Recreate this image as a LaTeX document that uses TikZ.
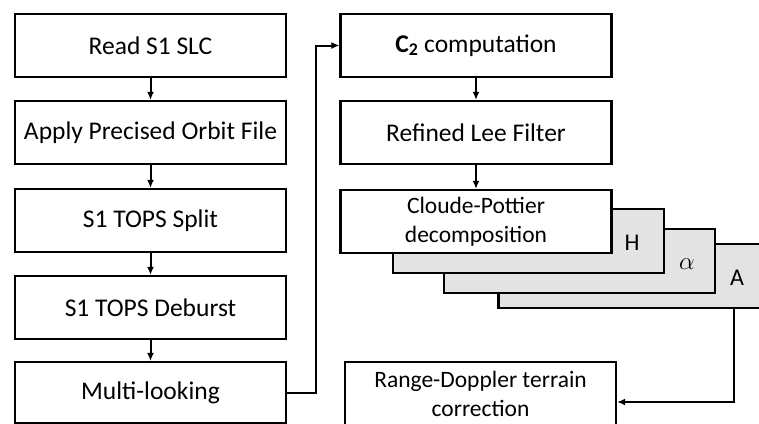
\documentclass[tikz,border=0pt]{standalone}
\usepackage{fontspec}
\setmainfont{Carlito}
\usetikzlibrary{arrows.meta}
\begin{document}
\begin{tikzpicture}[x=1pt,y=-1pt,
  box/.style={draw,line width=2.2pt,fill=white,inner sep=0pt,align=center,
    minimum width=271pt,minimum height=63pt,font=\fontsize{25.5}{30}\selectfont},
  sbox/.style={box,font=\fontsize{23.5}{29}\selectfont},
  layer/.style={draw,line width=2.2pt,fill=gray!22,inner sep=0pt,
    minimum width=271pt,minimum height=64pt},
  lbl/.style={inner sep=0pt,font=\fontsize{24}{28}\selectfont},
  arr/.style={line width=2pt,-{Latex[length=8pt,width=7pt]}}]
\useasboundingbox (0,0) rectangle (759,423);
\clip (0,0) rectangle (759,423);
% left column
\node[box] (read) at (150.5,45.5) {Read S1 SLC};
\node[box] (orbit) at (150.5,132.5) {Apply Precised Orbit File};
\node[box] (split) at (150.5,220.5) {S1 TOPS Split};
\node[box] (deburst) at (150.5,307.5) {S1 TOPS Deburst};
\node[box,minimum height=61pt] (multi) at (150.5,392.5) {Multi-looking};
% right column
\node[box] (c2) at (476,45.5) {\textbf{C\textsubscript{2}} computation};
\node[box] (lee) at (476,132.5) {Refined Lee Filter};
% stacked layers
\node[layer] (la) at (634,276) {};
\node[lbl] (labA) at (737,278) {A};
\node[layer] (lalpha) at (579.5,261) {};
\node[lbl] (labalpha) at (687,264) {$\alpha$};
\node[layer] (lh) at (528.5,241) {};
\node[lbl] (labH) at (632,243) {H};
\node[sbox] (cp) at (476,221.5) {Cloude-Pottier\\decomposition};
\node[sbox,minimum height=64pt] (rd) at (480.5,394) {Range-Doppler terrain\\correction};
% connectors
\draw[arr] (read) -- (orbit);
\draw[arr] (orbit) -- (split);
\draw[arr] (split) -- (deburst);
\draw[arr] (deburst) -- (multi);
\draw[arr] (multi.east) -- (316,392.5) |- (c2.west);
\draw[arr] (c2) -- (lee);
\draw[arr] (lee) -- (cp);
\draw[arr] (la.south -| 734,0) |- (rd.east |- 0,402);
\end{tikzpicture}
\end{document}
